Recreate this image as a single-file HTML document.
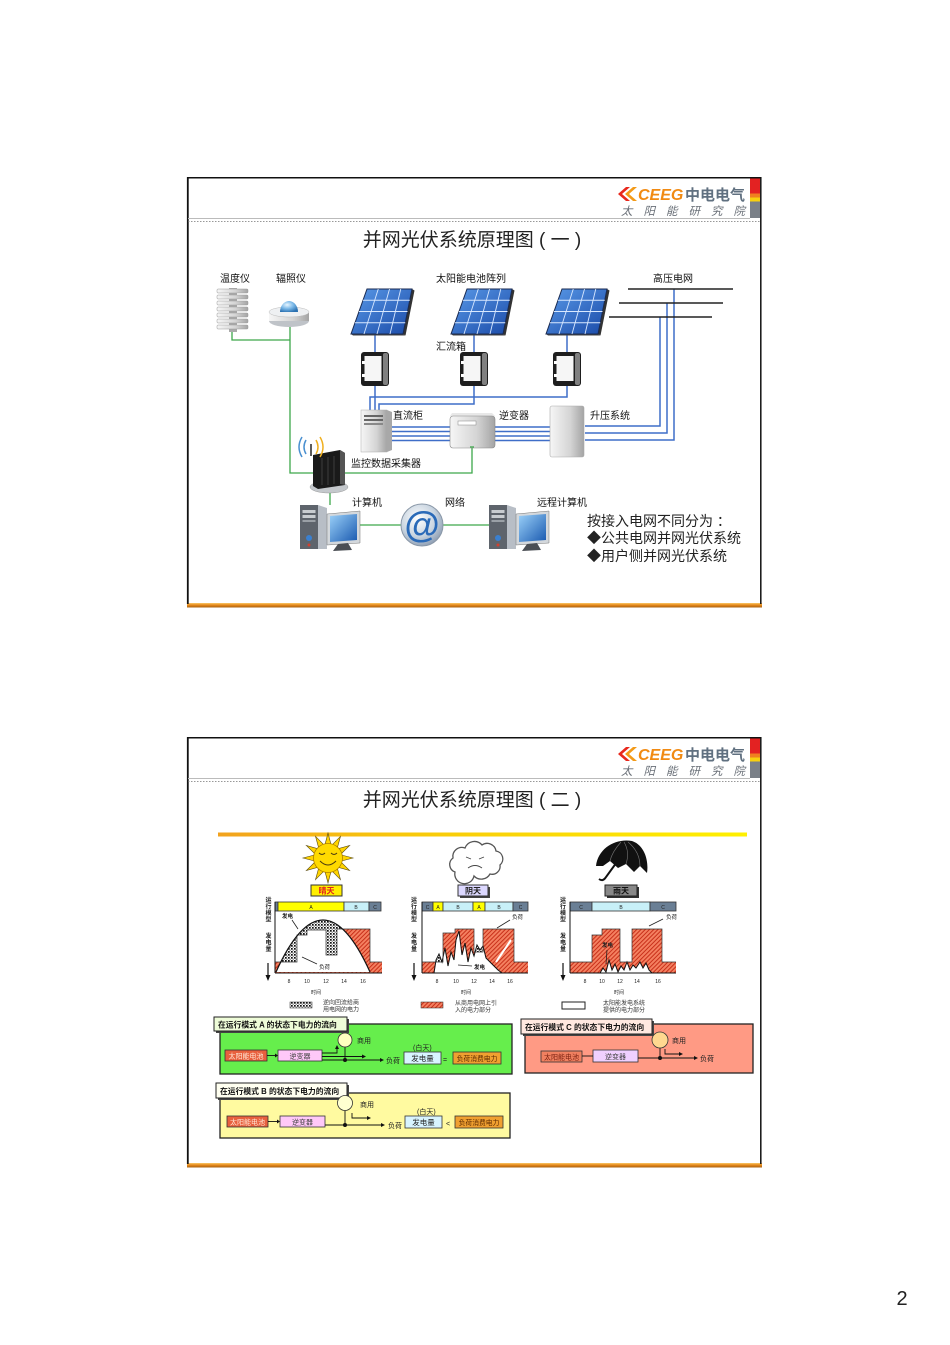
<!DOCTYPE html>
<html><head><meta charset="utf-8">
<style>
html,body{margin:0;padding:0;background:#fff;width:950px;height:1345px;overflow:hidden}
svg{display:block}
text{font-family:"Liberation Sans","Noto Sans CJK SC",sans-serif}
</style></head><body>
<svg width="950" height="1345" viewBox="0 0 950 1345" xmlns="http://www.w3.org/2000/svg">
<defs>
<linearGradient id="ob" x1="0" y1="0" x2="0" y2="1"><stop offset="0" stop-color="#f9c86a"/><stop offset=".45" stop-color="#e88a1a"/><stop offset="1" stop-color="#a86010"/></linearGradient>
<linearGradient id="yb" x1="0" y1="0" x2="1" y2="0"><stop offset="0" stop-color="#f2a21e"/><stop offset=".35" stop-color="#f8c80a"/><stop offset="1" stop-color="#fff000"/></linearGradient>
<linearGradient id="pvg" x1="0" y1="0" x2="1" y2="1"><stop offset="0" stop-color="#5a9ae8"/><stop offset="1" stop-color="#1a4aa8"/></linearGradient>
<linearGradient id="gry" x1="0" y1="0" x2="1" y2="0"><stop offset="0" stop-color="#f6f6f6"/><stop offset=".6" stop-color="#d4d4d4"/><stop offset="1" stop-color="#a4a4a4"/></linearGradient>
<linearGradient id="scr" x1="0" y1="0" x2="1" y2="1"><stop offset="0" stop-color="#9ad0f8"/><stop offset="1" stop-color="#1a5ab0"/></linearGradient>
<radialGradient id="dome" cx=".4" cy=".35" r=".7"><stop offset="0" stop-color="#e8f6ff"/><stop offset=".5" stop-color="#7ab8e8"/><stop offset="1" stop-color="#2a70b0"/></radialGradient>
<radialGradient id="atg" cx=".4" cy=".35" r=".7"><stop offset="0" stop-color="#ffffff"/><stop offset=".6" stop-color="#c8d4e0"/><stop offset="1" stop-color="#8a9ab0"/></radialGradient>
<pattern id="hatch" width="3" height="3" patternUnits="userSpaceOnUse" patternTransform="rotate(45)"><rect width="3" height="3" fill="#f48060"/><rect width="1" height="3" fill="#c8301a"/></pattern>
<pattern id="dots" width="3" height="3" patternUnits="userSpaceOnUse"><rect width="3" height="3" fill="#fff"/><rect width="1.7" height="1.7" fill="#111"/><rect x="1.7" y="1.7" width="1" height="1" fill="#333"/></pattern>
<g id="pv">
<polygon points="61,0 63.5,1.5 54.5,46.5 52,45" fill="#333"/>
<polygon points="0,45 52,45 54.5,46.5 2,46.5" fill="#444"/>
<polygon points="16,0 61,0 52,45 0,45" fill="url(#pvg)" stroke="#1a2a50" stroke-width="1"/>
<g stroke="#d8e8ff" stroke-width="0.9">
<line x1="12" y1="11.25" x2="58.75" y2="11.25"/>
<line x1="8" y1="22.5" x2="56.5" y2="22.5"/>
<line x1="4" y1="33.75" x2="54.25" y2="33.75"/>
<line x1="27.25" y1="0" x2="13" y2="45"/>
<line x1="38.5" y1="0" x2="26" y2="45"/>
<line x1="49.75" y1="0" x2="39" y2="45"/>
</g>
</g>
<g id="cb">
<rect x="0" y="0" width="28" height="34" rx="3" fill="#1e1e1e"/>
<rect x="22" y="1" width="5" height="32" rx="2" fill="#808080"/>
<rect x="3.5" y="4" width="17" height="25" fill="#f6f6f6"/>
<rect x="1" y="9" width="3" height="3" fill="#fff"/>
<rect x="1" y="22" width="3" height="3" fill="#fff"/>
</g>
<g id="pc">
<rect x="0" y="0" width="18" height="44" fill="#5e646c"/>
<polygon points="18,0 27,3 27,44 18,44" fill="#b8bec6"/>
<rect x="2.5" y="5" width="13" height="3" fill="#c8ccd0"/>
<rect x="2.5" y="10" width="13" height="3" fill="#c8ccd0"/>
<rect x="2.5" y="15" width="13" height="2" fill="#9aa0a6"/>
<circle cx="9" cy="33" r="3" fill="#3a80d0"/>
<circle cx="9" cy="40" r="1.5" fill="#d04030"/>
<polygon points="27,9 60,6 60,38 27,40" fill="#d4d8dc" stroke="#777" stroke-width=".5"/>
<polygon points="30,11 57,9 57,35 30,37" fill="url(#scr)"/>
<polygon points="38,39 48,38 52,45 33,46" fill="#4a4e54"/>
</g>
<polygon id="ray" points="13.5,-3 25,0 13.5,3" fill="#ffd400" stroke="#5a4a10" stroke-width=".6"/>
<clipPath id="ca1"><polygon points="275,890 382,890 382,962 370,962 370,929 337,929 337,955 326,955 326,930 307,930 307,935 297,935 297,962 275,962"/></clipPath>
<clipPath id="ca2"><polygon points="422,890 528,890 528,962 514,962 514,929 483,929 483,952 474,952 474,929 455,929 455,933 443,933 443,962 422,962"/></clipPath>
</defs>

<rect width="950" height="1345" fill="#fff"/>

<!-- ================= SLIDE 1 ================= -->
<g>
<rect x="187" y="603" width="575" height="4.5" fill="url(#ob)"/>
<line x1="187.8" y1="177" x2="187.8" y2="604" stroke="#111" stroke-width="1.8"/>
<line x1="187" y1="177.7" x2="761.5" y2="177.7" stroke="#111" stroke-width="1.5"/>
<line x1="760.8" y1="177" x2="760.8" y2="604" stroke="#111" stroke-width="1.5"/>
<rect x="750" y="178.5" width="10" height="15" fill="#e32222"/>
<rect x="750" y="193.5" width="10" height="4" fill="#f08020"/>
<rect x="750" y="197.5" width="10" height="4" fill="#f8d010"/>
<rect x="750" y="201.5" width="10" height="16.5" fill="#7a8088"/>
<line x1="188" y1="218.5" x2="750" y2="218.5" stroke="#bbb" stroke-width="1"/>
<line x1="188" y1="221.5" x2="760" y2="221.5" stroke="#777" stroke-width=".8" stroke-dasharray="1.5,1.5"/>
<polygon points="626,187 618,194 626,201 630,201 622,194 630,187" fill="#e8281c"/>
<polygon points="633,187 625,194 633,201 637,201 629,194 637,187" fill="#f39a18"/>
<text x="638" y="200" font-size="16" font-weight="bold" font-style="italic" fill="#f18a12">CEEG</text>
<text x="685" y="200" font-size="15" font-weight="bold" fill="#607080">中电电气</text>
<text x="621" y="215" font-size="11.5" font-style="italic" fill="#6a7078" textLength="124" lengthAdjust="spacing">太阳能研究院</text>
<text x="472" y="246" font-size="19" fill="#222" text-anchor="middle">并网光伏系统原理图 ( 一 )</text>
</g>

<!-- slide 1 diagram lines -->
<g fill="none" stroke="#3da84a" stroke-width="1.3">
<polyline points="232,332 232,340 290,340"/>
<polyline points="290,326 290,473 472,473 472,447"/>
<line x1="330" y1="492" x2="330" y2="505"/>
<line x1="360" y1="525" x2="402" y2="525"/>
<line x1="443" y1="525" x2="490" y2="525"/>
</g>
<g fill="none" stroke="#3f6ec8" stroke-width="1.5">
<line x1="375" y1="334" x2="375" y2="352"/>
<line x1="474" y1="334" x2="474" y2="352"/>
<line x1="567" y1="334" x2="567" y2="352"/>
<line x1="375" y1="386" x2="375" y2="411"/>
<polyline points="474,386 474,404 379,404 379,411"/>
<polyline points="567,386 567,397 370,397 370,411"/>
<line x1="389" y1="427" x2="450" y2="427"/>
<line x1="389" y1="431.5" x2="450" y2="431.5"/>
<line x1="389" y1="436" x2="450" y2="436"/>
<line x1="389" y1="440.5" x2="450" y2="440.5"/>
<line x1="494" y1="427" x2="550" y2="427"/>
<line x1="494" y1="431.5" x2="550" y2="431.5"/>
<line x1="494" y1="436" x2="550" y2="436"/>
<line x1="494" y1="440.5" x2="550" y2="440.5"/>
<polyline points="585,426 660,426 660,317"/>
<polyline points="585,433 667,433 667,303"/>
<polyline points="585,440 674,440 674,289"/>
</g>
<g stroke="#222" stroke-width="1.5">
<line x1="628" y1="289" x2="733" y2="289"/>
<line x1="619" y1="303" x2="723" y2="303"/>
<line x1="609" y1="317" x2="712" y2="317"/>
</g>

<use href="#pv" transform="translate(351,289)"/>
<use href="#pv" transform="translate(451,289)"/>
<use href="#pv" transform="translate(546,289)"/>
<use href="#cb" transform="translate(361,352)"/>
<use href="#cb" transform="translate(460,352)"/>
<use href="#cb" transform="translate(553,352)"/>

<rect x="229" y="288" width="8" height="44" fill="#aaa"/>
<g fill="url(#gry)" stroke="#999" stroke-width=".5">
<rect x="217" y="289" width="31" height="4" rx="1"/>
<rect x="217" y="295" width="31" height="4" rx="1"/>
<rect x="217" y="301" width="31" height="4" rx="1"/>
<rect x="217" y="307" width="31" height="4" rx="1"/>
<rect x="217" y="313" width="31" height="4" rx="1"/>
<rect x="217" y="319" width="31" height="4" rx="1"/>
<rect x="217" y="325" width="31" height="4" rx="1"/>
</g>
<ellipse cx="289" cy="321" rx="20" ry="6" fill="#bfc3c8"/>
<rect x="269" y="312" width="40" height="9" fill="url(#gry)"/>
<ellipse cx="289" cy="312" rx="20" ry="5" fill="#eef0f2" stroke="#bbb" stroke-width=".5"/>
<path d="M280,312 A9,11 0 0,1 298,312 Z" fill="url(#dome)"/>

<polygon points="387,410 392,412 392,450 387,452" fill="#a8a8a8"/>
<rect x="361" y="410" width="26" height="42" fill="url(#gry)" stroke="#aaa" stroke-width=".5"/>
<rect x="364" y="415" width="19" height="2" fill="#666"/>
<rect x="364" y="419" width="19" height="2" fill="#666"/>
<rect x="364" y="423" width="19" height="2" fill="#888"/>
<polygon points="452,413 492,413 495,416 450,416" fill="#e8e8e8"/>
<rect x="450" y="416" width="45" height="32" rx="3" fill="url(#gry)" stroke="#888" stroke-width=".6"/>
<rect x="458" y="421" width="18" height="4" fill="#fff" stroke="#888" stroke-width=".5"/>
<line x1="470" y1="447" x2="474" y2="447" stroke="#3da84a" stroke-width="1.3"/>
<rect x="550" y="406" width="34" height="51" rx="2" fill="url(#gry)" stroke="#aaa" stroke-width=".6"/>

<ellipse cx="329" cy="487" rx="19" ry="6" fill="#c4c8cc" stroke="#999" stroke-width=".5"/>
<polygon points="313,455 340,450 345,453 345,485 318,489 313,486" fill="#1a1a1a"/>
<polygon points="340,450 345,453 345,485 340,484" fill="#555"/>
<g stroke="#555" stroke-width=".6"><line x1="322" y1="458" x2="322" y2="485"/><line x1="328" y1="457" x2="328" y2="485"/><line x1="334" y1="456" x2="334" y2="484"/></g>
<line x1="311" y1="456" x2="311" y2="444" stroke="#333" stroke-width="1.6"/>
<g fill="none" stroke-width="1.5">
<path d="M306,440 Q302,447 306,454" stroke="#4a90d0"/>
<path d="M302,437 Q296,447 302,457" stroke="#4a90d0"/>
<path d="M316,440 Q320,447 316,454" stroke="#f0b020"/>
<path d="M320,437 Q326,447 320,457" stroke="#f0b020"/>
</g>

<use href="#pc" transform="translate(300,505)"/>
<use href="#pc" transform="translate(489,505)"/>
<circle cx="422" cy="525" r="21" fill="url(#atg)" stroke="#8a98a8" stroke-width="1"/>
<text x="422" y="537" font-size="36" font-weight="bold" fill="#2a6ab8" text-anchor="middle">@</text>

<g font-size="10" fill="#111">
<text x="220" y="282">温度仪</text>
<text x="276" y="282">辐照仪</text>
<text x="436" y="282">太阳能电池阵列</text>
<text x="653" y="282">高压电网</text>
<text x="436" y="350">汇流箱</text>
<text x="393" y="419">直流柜</text>
<text x="499" y="419">逆变器</text>
<text x="590" y="419">升压系统</text>
<text x="351" y="467">监控数据采集器</text>
<text x="352" y="506">计算机</text>
<text x="445" y="506">网络</text>
<text x="537" y="506">远程计算机</text>
</g>
<g font-size="14" fill="#222">
<text x="587" y="526">按接入电网不同分为 ：</text>
<text x="587" y="543">◆公共电网并网光伏系统</text>
<text x="587" y="561">◆用户侧并网光伏系统</text>
</g>

<!-- ================= SLIDE 2 ================= -->
<g>
<rect x="187" y="1163" width="575" height="4.5" fill="url(#ob)"/>
<line x1="187.8" y1="737" x2="187.8" y2="1164" stroke="#111" stroke-width="1.8"/>
<line x1="187" y1="737.7" x2="761.5" y2="737.7" stroke="#111" stroke-width="1.5"/>
<line x1="760.8" y1="737" x2="760.8" y2="1164" stroke="#111" stroke-width="1.5"/>
<rect x="750" y="738.5" width="10" height="15" fill="#e32222"/>
<rect x="750" y="753.5" width="10" height="4" fill="#f08020"/>
<rect x="750" y="757.5" width="10" height="4" fill="#f8d010"/>
<rect x="750" y="761.5" width="10" height="16.5" fill="#7a8088"/>
<line x1="188" y1="778.5" x2="750" y2="778.5" stroke="#bbb" stroke-width="1"/>
<line x1="188" y1="781.5" x2="760" y2="781.5" stroke="#777" stroke-width=".8" stroke-dasharray="1.5,1.5"/>
<polygon points="626,747 618,754 626,761 630,761 622,754 630,747" fill="#e8281c"/>
<polygon points="633,747 625,754 633,761 637,761 629,754 637,747" fill="#f39a18"/>
<text x="638" y="760" font-size="16" font-weight="bold" font-style="italic" fill="#f18a12">CEEG</text>
<text x="685" y="760" font-size="15" font-weight="bold" fill="#607080">中电电气</text>
<text x="621" y="775" font-size="11.5" font-style="italic" fill="#6a7078" textLength="124" lengthAdjust="spacing">太阳能研究院</text>
<text x="472" y="806" font-size="19" fill="#222" text-anchor="middle">并网光伏系统原理图 ( 二 )</text>
</g>
<rect x="218" y="832.5" width="529" height="4" fill="url(#yb)"/>

<g>
<use href="#ray" transform="translate(328,858) rotate(0)"/>
<use href="#ray" transform="translate(328,858) rotate(30)"/>
<use href="#ray" transform="translate(328,858) rotate(60)"/>
<use href="#ray" transform="translate(328,858) rotate(90)"/>
<use href="#ray" transform="translate(328,858) rotate(120)"/>
<use href="#ray" transform="translate(328,858) rotate(150)"/>
<use href="#ray" transform="translate(328,858) rotate(180)"/>
<use href="#ray" transform="translate(328,858) rotate(210)"/>
<use href="#ray" transform="translate(328,858) rotate(240)"/>
<use href="#ray" transform="translate(328,858) rotate(270)"/>
<use href="#ray" transform="translate(328,858) rotate(300)"/>
<use href="#ray" transform="translate(328,858) rotate(330)"/>
<circle cx="328" cy="858" r="14.5" fill="#ffda00" stroke="#b08000" stroke-width=".8"/>
<g fill="none" stroke="#4a3a10" stroke-width="1">
<path d="M319,853 Q322,856 325,853"/><path d="M331,853 Q334,856 337,853"/>
<path d="M320,861 Q328,869 336,861"/>
</g>
</g>
<rect x="311" y="885" width="31" height="11" fill="#ffee00" stroke="#333" stroke-width="1"/>
<text x="326.5" y="893.5" font-size="8" font-weight="bold" fill="#e02020" text-anchor="middle">晴天</text>

<path d="M455,872 a8,8 0 0,1 -2,-14 a9,9 0 0,1 12,-10 a10,10 0 0,1 17,-3 a9,9 0 0,1 14,6 a8,8 0 0,1 4,14 a8,8 0 0,1 -10,9 a10,10 0 0,1 -16,2 a9,9 0 0,1 -19,-4 z" fill="#fff" stroke="#555" stroke-width="1.3"/>
<g fill="none" stroke="#444" stroke-width=".9">
<path d="M466,857 L471,859"/><path d="M484,857 L479,859"/>
<path d="M468,868 Q475,863 482,868"/>
</g>
<rect x="460" y="887" width="30" height="11" fill="#444"/>
<rect x="458" y="885" width="30" height="11" fill="#dcd8ff" stroke="#333" stroke-width="1"/>
<text x="473" y="893.5" font-size="8" font-weight="bold" fill="#222" text-anchor="middle">阴天</text>

<path d="M596,866 C598,848 616,838 632,841 C644,845 649,860 647,873 L640,866 L634,872 L626,864 L618,868 L610,861 L603,866 Z" fill="#111"/>
<g fill="none" stroke="#777" stroke-width=".6"><path d="M621,842 Q612,852 610,861"/><path d="M624,842 Q630,852 626,864"/><path d="M628,842 Q640,852 640,866"/></g>
<path d="M622,855 L606,877 Q603,882 599,879" fill="none" stroke="#111" stroke-width="2"/>
<rect x="607" y="887" width="32" height="11" fill="#333"/>
<rect x="605" y="885" width="32" height="11" fill="#888" stroke="#222" stroke-width="1"/>
<text x="621" y="893.5" font-size="8" font-weight="bold" fill="#111" text-anchor="middle">雨天</text>

<!-- chart 1 -->
<polygon points="275,962 297,962 297,935 307,935 307,930 326,930 326,955 337,955 337,929 370,929 370,962 382,962 382,973 275,973" fill="url(#hatch)"/>
<path d="M276,972 Q323,868 370,972 Z" fill="#fff"/>
<path d="M276,972 Q323,868 370,972 Z" fill="url(#dots)" clip-path="url(#ca1)"/>
<polyline points="275,962 297,962 297,935 307,935 307,930 326,930 326,955 337,955 337,929 370,929 370,962 382,962" fill="none" stroke="#333" stroke-width=".7"/>
<path d="M276,972 Q323,868 370,972" fill="none" stroke="#111" stroke-width="1.2"/>
<g stroke="#333" stroke-width=".8">
<rect x="275" y="902" width="3" height="9" fill="#6a7f95"/>
<rect x="278" y="902" width="66" height="9" fill="#ffff00"/>
<rect x="344" y="902" width="25" height="9" fill="#c8f0f8"/>
<rect x="369" y="902" width="12" height="9" fill="#6a7f95"/>
</g>
<line x1="275" y1="902" x2="275" y2="973" stroke="#111" stroke-width="1"/>
<line x1="275" y1="973" x2="382" y2="973" stroke="#111" stroke-width="1"/>

<!-- chart 2 -->
<polygon points="422,962 443,962 443,933 455,933 455,929 474,929 474,952 483,952 483,929 514,929 514,962 528,962 528,973 422,973" fill="url(#hatch)"/>
<line x1="496" y1="962" x2="511" y2="940" stroke="#fff" stroke-width="2"/>
<polygon points="422,973 434,973 436,960 439,954 442,962 445,948 448,966 451,952 454,960 456,940 459,931 462,955 465,943 468,962 471,948 474,956 477,945 480,950 483,946 486,958 490,962 494,966 498,970 502,973" fill="#fff"/>
<polygon points="422,973 434,973 436,960 439,954 442,962 445,948 448,966 451,952 454,960 456,940 459,931 462,955 465,943 468,962 471,948 474,956 477,945 480,950 483,946 486,958 490,962 494,966 498,970 502,973" fill="url(#dots)" clip-path="url(#ca2)"/>
<polyline points="434,973 436,960 439,954 442,962 445,948 448,966 451,952 454,960 456,940 459,931 462,955 465,943 468,962 471,948 474,956 477,945 480,950 483,946 486,958 490,962 494,966 498,970 502,973" fill="none" stroke="#111" stroke-width="1"/>
<polyline points="422,962 443,962 443,933 455,933 455,929 474,929 474,952 483,952 483,929 514,929 514,962 528,962" fill="none" stroke="#333" stroke-width=".7"/>
<g stroke="#333" stroke-width=".8">
<rect x="422" y="902" width="11" height="9" fill="#6a7f95"/>
<rect x="433" y="902" width="10" height="9" fill="#ffff00"/>
<rect x="443" y="902" width="30" height="9" fill="#c8f0f8"/>
<rect x="473" y="902" width="12" height="9" fill="#ffff00"/>
<rect x="485" y="902" width="28" height="9" fill="#c8f0f8"/>
<rect x="513" y="902" width="15" height="9" fill="#6a7f95"/>
</g>
<line x1="422" y1="902" x2="422" y2="973" stroke="#111" stroke-width="1"/>
<line x1="422" y1="973" x2="528" y2="973" stroke="#111" stroke-width="1"/>

<!-- chart 3 -->
<polygon points="570,962 592,962 592,935 602,935 602,929 620,929 620,962 632,962 632,929 662,929 662,962 676,962 676,973 570,973" fill="url(#hatch)"/>
<polygon points="570,973 600,973 603,968 606,972 609,960 612,970 615,964 618,972 621,966 624,970 627,962 630,970 633,965 636,968 640,962 643,968 646,963 649,970 652,973" fill="#fff"/>
<polyline points="600,973 603,968 606,972 609,960 612,970 615,964 618,972 621,966 624,970 627,962 630,970 633,965 636,968 640,962 643,968 646,963 649,970 652,973" fill="none" stroke="#111" stroke-width="1"/>
<polyline points="570,962 592,962 592,935 602,935 602,929 620,929 620,962 632,962 632,929 662,929 662,962 676,962" fill="none" stroke="#333" stroke-width=".7"/>
<g stroke="#333" stroke-width=".8">
<rect x="570" y="902" width="22" height="9" fill="#6a7f95"/>
<rect x="592" y="902" width="58" height="9" fill="#c8f0f8"/>
<rect x="650" y="902" width="26" height="9" fill="#6a7f95"/>
</g>
<line x1="570" y1="902" x2="570" y2="973" stroke="#111" stroke-width="1"/>
<line x1="570" y1="973" x2="676" y2="973" stroke="#111" stroke-width="1"/>

<g font-size="5" fill="#222" text-anchor="middle">
<text x="311" y="909">A</text><text x="356" y="909">B</text><text x="375" y="909">C</text>
<text x="427.5" y="909">C</text><text x="438" y="909">A</text><text x="458" y="909">B</text><text x="479" y="909">A</text><text x="499" y="909">B</text><text x="520.5" y="909">C</text>
<text x="581" y="909">C</text><text x="621" y="909">B</text><text x="663" y="909">C</text>
<text x="289" y="983">8</text><text x="307" y="983">10</text><text x="326" y="983">12</text><text x="344" y="983">14</text><text x="363" y="983">16</text>
<text x="437" y="983">8</text><text x="456" y="983">10</text><text x="474" y="983">12</text><text x="492" y="983">14</text><text x="510" y="983">16</text>
<text x="585" y="983">8</text><text x="602" y="983">10</text><text x="620" y="983">12</text><text x="637" y="983">14</text><text x="658" y="983">16</text>
<text x="316" y="994">时间</text><text x="466" y="994">时间</text><text x="619" y="994">时间</text>
</g>
<g font-size="6" font-weight="bold" fill="#222" text-anchor="middle">
<text x="268.5" y="902">运</text><text x="268.5" y="908.5">行</text><text x="268.5" y="915">模</text><text x="268.5" y="921.5">型</text>
<text x="268.5" y="938">发</text><text x="268.5" y="944.5">电</text><text x="268.5" y="951">量</text>
<text x="414" y="902">运</text><text x="414" y="908.5">行</text><text x="414" y="915">模</text><text x="414" y="921.5">型</text>
<text x="414" y="938">发</text><text x="414" y="944.5">电</text><text x="414" y="951">量</text>
<text x="563" y="902">运</text><text x="563" y="908.5">行</text><text x="563" y="915">模</text><text x="563" y="921.5">型</text>
<text x="563" y="938">发</text><text x="563" y="944.5">电</text><text x="563" y="951">量</text>
</g>
<g stroke="#111" stroke-width="1.2">
<line x1="268" y1="963" x2="268" y2="976"/><line x1="414" y1="963" x2="414" y2="976"/><line x1="563" y1="963" x2="563" y2="976"/>
</g>
<g fill="#111">
<polygon points="265.5,975 270.5,975 268,981"/><polygon points="411.5,975 416.5,975 414,981"/><polygon points="560.5,975 565.5,975 563,981"/>
</g>
<g font-size="5.5" fill="#222">
<text x="282" y="918" font-weight="bold">发电</text>
<text x="319" y="969">负荷</text>
<text x="512" y="919">负荷</text>
<text x="474" y="969" font-weight="bold">发电</text>
<text x="666" y="919">负荷</text>
<text x="602" y="947" font-weight="bold">发电</text>
</g>
<g stroke="#222" stroke-width=".8" fill="none">
<line x1="292" y1="920" x2="298" y2="929"/>
<line x1="317" y1="964" x2="302" y2="957"/>
<line x1="510" y1="920" x2="497" y2="928"/>
<line x1="472" y1="966" x2="458" y2="965"/>
<line x1="663" y1="919" x2="649" y2="926"/>
<line x1="607" y1="950" x2="606" y2="964"/>
</g>

<rect x="290" y="1002" width="22" height="6" fill="url(#dots)" stroke="#222" stroke-width=".5"/>
<rect x="421" y="1002" width="22" height="6" fill="url(#hatch)" stroke="#222" stroke-width=".5"/>
<rect x="562" y="1002" width="23" height="7" fill="#fff" stroke="#222" stroke-width="1"/>
<g font-size="6" fill="#333">
<text x="323" y="1004.5">逆向回流给商</text><text x="323" y="1011.5">用电网的电力</text>
<text x="455" y="1005">从商用电网上引</text><text x="455" y="1012">入的电力部分</text>
<text x="603" y="1005">太阳能发电系统</text><text x="603" y="1012">提供的电力部分</text>
</g>

<!-- Mode A -->
<rect x="220" y="1024" width="292" height="50" fill="#66ee4c" stroke="#222" stroke-width="1.3"/>
<rect x="216" y="1019" width="133" height="14" fill="#444"/>
<rect x="214" y="1017" width="133" height="14" fill="#eefcd8" stroke="#222" stroke-width="1"/>
<text x="218" y="1027.5" font-size="7.8" font-weight="bold" fill="#111">在运行模式 A 的状态下电力的流向</text>
<rect x="225" y="1050" width="42" height="11" fill="#e8603e" stroke="#333" stroke-width=".8"/>
<text x="246" y="1058.5" font-size="7" fill="#ffe8d8" text-anchor="middle">太阳能电池</text>
<rect x="278" y="1050" width="44" height="11" fill="#ffc8f8" stroke="#333" stroke-width=".8"/>
<text x="300" y="1058.5" font-size="7" fill="#444" text-anchor="middle">逆变器</text>
<g stroke="#111" stroke-width=".9" fill="none">
<line x1="267" y1="1055.5" x2="275" y2="1055.5"/>
<polyline points="322,1053 337,1053 337,1048"/>
<line x1="322" y1="1056.5" x2="363" y2="1056.5"/>
<line x1="322" y1="1060" x2="381" y2="1060"/>
<line x1="345" y1="1047" x2="345" y2="1060"/>
</g>
<g fill="#111">
<polygon points="275,1053.5 278,1055.5 275,1057.5"/>
<polygon points="335,1049 339,1049 337,1045"/>
<polygon points="362,1054.5 366,1056.5 362,1058.5"/>
<polygon points="380,1058 384,1060 380,1062"/>
<circle cx="345" cy="1060" r="2"/>
</g>
<circle cx="345" cy="1040" r="7" fill="#ffffc0" stroke="#333" stroke-width=".8"/>
<g font-size="7" fill="#222">
<text x="357" y="1043">商用</text>
<text x="386" y="1063">负荷</text>
<text x="413" y="1050">(白天)</text>
<text x="443" y="1062">=</text>
</g>
<rect x="404" y="1052" width="37" height="12" fill="#d8f4ff" stroke="#333" stroke-width=".8"/>
<text x="422.5" y="1061" font-size="7.5" fill="#222" text-anchor="middle">发电量</text>
<rect x="453" y="1052" width="48" height="12" fill="#f0a030" stroke="#333" stroke-width=".8"/>
<text x="477" y="1061" font-size="6.8" fill="#5a2800" text-anchor="middle">负荷消费电力</text>

<!-- Mode B -->
<rect x="220" y="1093" width="290" height="45" fill="#fffaa0" stroke="#222" stroke-width="1.3"/>
<rect x="218" y="1085" width="131" height="15" fill="#444"/>
<rect x="216" y="1083" width="131" height="15" fill="#fffff0" stroke="#222" stroke-width="1"/>
<text x="220" y="1094" font-size="7.8" font-weight="bold" fill="#111">在运行模式 B 的状态下电力的流向</text>
<rect x="227" y="1116" width="41" height="11" fill="#e8603e" stroke="#333" stroke-width=".8"/>
<text x="247.5" y="1124.5" font-size="7" fill="#ffe8d8" text-anchor="middle">太阳能电池</text>
<rect x="280" y="1116" width="45" height="11" fill="#ffc8f8" stroke="#333" stroke-width=".8"/>
<text x="302.5" y="1124.5" font-size="7" fill="#444" text-anchor="middle">逆变器</text>
<g stroke="#111" stroke-width=".9" fill="none">
<line x1="268" y1="1121.5" x2="277" y2="1121.5"/>
<line x1="325" y1="1125" x2="382" y2="1125"/>
<line x1="345" y1="1110" x2="345" y2="1125"/>
<polyline points="352,1113 352,1118 368,1118"/>
</g>
<g fill="#111">
<polygon points="277,1119.5 280,1121.5 277,1123.5"/>
<polygon points="381,1123 385,1125 381,1127"/>
<polygon points="367,1116 371,1118 367,1120"/>
<circle cx="345" cy="1125" r="2"/>
</g>
<circle cx="345" cy="1103" r="7.5" fill="#ffffd0" stroke="#333" stroke-width=".8"/>
<g font-size="7" fill="#222">
<text x="360" y="1107">商用</text>
<text x="388" y="1128">负荷</text>
<text x="417" y="1114">(白天)</text>
<text x="446" y="1126">&lt;</text>
</g>
<rect x="405" y="1116" width="37" height="12" fill="#d8f4ff" stroke="#333" stroke-width=".8"/>
<text x="423.5" y="1125" font-size="7.5" fill="#222" text-anchor="middle">发电量</text>
<rect x="455" y="1116" width="48" height="12" fill="#f0a030" stroke="#333" stroke-width=".8"/>
<text x="479" y="1125" font-size="6.8" fill="#5a2800" text-anchor="middle">负荷消费电力</text>

<!-- Mode C -->
<rect x="525" y="1024" width="228" height="49" fill="#ff9a84" stroke="#222" stroke-width="1.3"/>
<rect x="523" y="1021" width="131" height="15" fill="#444"/>
<rect x="521" y="1019" width="131" height="15" fill="#ffe8e0" stroke="#222" stroke-width="1"/>
<text x="525" y="1030" font-size="7.8" font-weight="bold" fill="#111">在运行模式 C 的状态下电力的流向</text>
<rect x="541" y="1051" width="41" height="11" fill="#f08060" stroke="#333" stroke-width=".8"/>
<text x="561.5" y="1059.5" font-size="7" fill="#7a2010" text-anchor="middle">太阳能电池</text>
<rect x="593" y="1050" width="45" height="12" fill="#f0d0ff" stroke="#333" stroke-width=".8"/>
<text x="615.5" y="1059" font-size="7" fill="#444" text-anchor="middle">逆变器</text>
<g stroke="#111" stroke-width=".9" fill="none">
<line x1="582" y1="1056" x2="593" y2="1056"/>
<line x1="638" y1="1058" x2="695" y2="1058"/>
<line x1="660" y1="1048" x2="660" y2="1058"/>
<polyline points="665,1049 665,1054 680,1054"/>
</g>
<g fill="#111">
<polygon points="694,1056 698,1058 694,1060"/>
<polygon points="679,1052 683,1054 679,1056"/>
<circle cx="660" cy="1058" r="2"/>
</g>
<circle cx="660" cy="1040" r="8" fill="#ffd890" stroke="#333" stroke-width=".8"/>
<g font-size="7" fill="#222">
<text x="672" y="1043">商用</text>
<text x="700" y="1061">负荷</text>
</g>

<text x="902" y="1305" font-size="20" fill="#222" text-anchor="middle">2</text>
</svg>
</body></html>
